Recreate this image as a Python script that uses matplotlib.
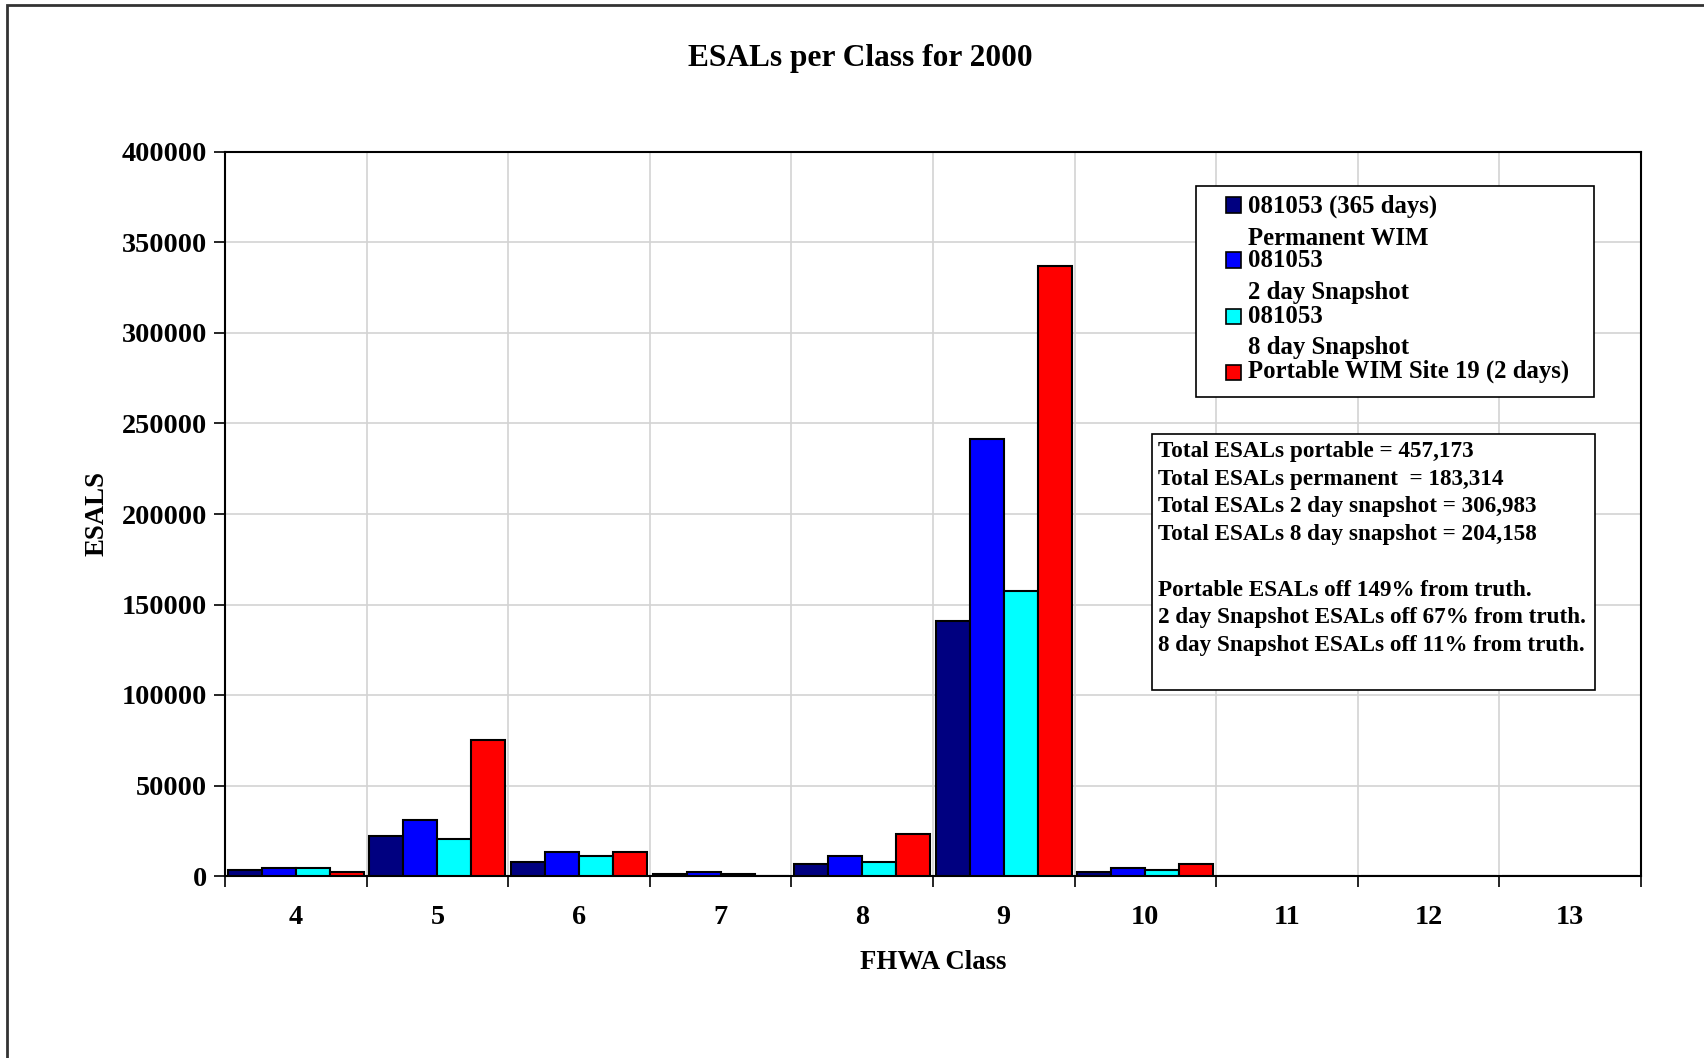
import numpy as np
import matplotlib
matplotlib.use("Agg")
import matplotlib.pyplot as plt
from matplotlib.patches import Rectangle

classes = ['4', '5', '6', '7', '8', '9', '10', '11', '12', '13']
permanent = [3100, 21900, 7500, 1100, 6400, 141000, 2000, 0, 0, 0]
snap2 = [4600, 30700, 13000, 2200, 10800, 241500, 4600, 0, 0, 0]
snap8 = [4600, 20600, 10800, 1100, 7500, 157500, 3100, 0, 0, 0]
portable = [2000, 75300, 13000, 0, 23000, 337000, 6400, 0, 0, 0]

series = [permanent, snap2, snap8, portable]
colors = ['#000080', '#0000FF', '#00FFFF', '#FF0000']
legend_lines = [
    ('081053 (365 days)', 'Permanent WIM'),
    ('081053', '2 day Snapshot'),
    ('081053', '8 day Snapshot'),
    ('Portable WIM Site 19 (2 days)', None),
]
note_lines = [
    'Total ESALs portable = 457,173',
    'Total ESALs permanent  = 183,314',
    'Total ESALs 2 day snapshot = 306,983',
    'Total ESALs 8 day snapshot = 204,158',
    '',
    'Portable ESALs off 149% from truth.',
    '2 day Snapshot ESALs off 67% from truth.',
    '8 day Snapshot ESALs off 11% from truth.',
]

W, H = 1704, 1058
plt.rcParams['font.family'] = 'Liberation Serif'
plt.rcParams['font.weight'] = 'bold'
plt.rcParams['axes.labelweight'] = 'bold'

fig = plt.figure(figsize=(W / 100, H / 100), dpi=100)


def px(x, y):
    return x / W, 1 - y / H


# chart area border (cut off at right/bottom like the source)
fig.patches.append(Rectangle(px(7, 1100), 1800 / W, 1095 / H, transform=fig.transFigure,
                             fill=False, edgecolor='#333333', linewidth=2))

ax = fig.add_axes([225 / W, 1 - 876 / H, 1416 / W, 724 / H])

x = np.arange(len(classes))
w = 0.24
for i, (vals, c) in enumerate(zip(series, colors)):
    ax.bar(x + (i - 1.5) * w, vals, width=w, color=c, edgecolor='black', linewidth=1.5, zorder=3)

ax.set_xlim(-0.5, len(classes) - 0.5)
ax.set_ylim(0, 400000)
ax.set_yticks(np.arange(0, 400001, 50000))
ax.set_yticklabels([str(v) for v in range(0, 400001, 50000)], fontsize=20.3)
ax.set_xticks(x)
ax.set_xticklabels(classes, fontsize=20.3)
ax.set_xticks(np.arange(-0.5, len(classes)), minor=True)
ax.tick_params(axis='x', which='major', length=0, pad=21)
ax.tick_params(axis='x', which='minor', length=8, width=1.2, direction='out')
ax.tick_params(axis='y', length=8, width=1.2, direction='out', pad=5)
ax.grid(axis='y', which='major', color='#d3d3d3', linewidth=1.2, zorder=0)
ax.grid(axis='x', which='minor', color='#d3d3d3', linewidth=1.2, zorder=0)
ax.set_axisbelow(True)
for s in ax.spines.values():
    s.set_linewidth(1.5)

ax.set_xlabel('FHWA Class', fontsize=19.3, labelpad=14)
ax.set_ylabel('ESALS', fontsize=19.3, labelpad=9)
fig.text(*px(860, 66), 'ESALs per Class for 2000', fontsize=22.6, ha='center', va='baseline')

# legend drawn by hand to keep the two-line labels
fig.patches.append(Rectangle(px(1196, 397), (1594 - 1196) / W, (397 - 186) / H,
                             transform=fig.transFigure, fill=True, facecolor='white',
                             edgecolor='black', linewidth=1.2, zorder=5))
sq_centers = [205, 260, 316, 372]
text_base = [(213, 245), (267, 299), (323, 354), (378, None)]
for (l1, l2), c, yc, (b1, b2) in zip(legend_lines, colors, sq_centers, text_base):
    fig.patches.append(Rectangle(px(1226, yc + 7.5), 15 / W, 15 / H, transform=fig.transFigure,
                                 facecolor=c, edgecolor='black', linewidth=1.2, zorder=6))
    fig.text(*px(1248, b1), l1, fontsize=17.8, va='baseline', zorder=6)
    if l2:
        fig.text(*px(1248, b2), l2, fontsize=17.8, va='baseline', zorder=6)

# totals box
fig.patches.append(Rectangle(px(1152, 690), (1595 - 1152) / W, (690 - 434) / H,
                             transform=fig.transFigure, fill=True, facecolor='white',
                             edgecolor='black', linewidth=1.2, zorder=5))
for k, line in enumerate(note_lines):
    fig.text(*px(1158, 457 + k * 27.7), line, fontsize=16.7, va='baseline', zorder=6)

fig.savefig('out.png', dpi=100)
